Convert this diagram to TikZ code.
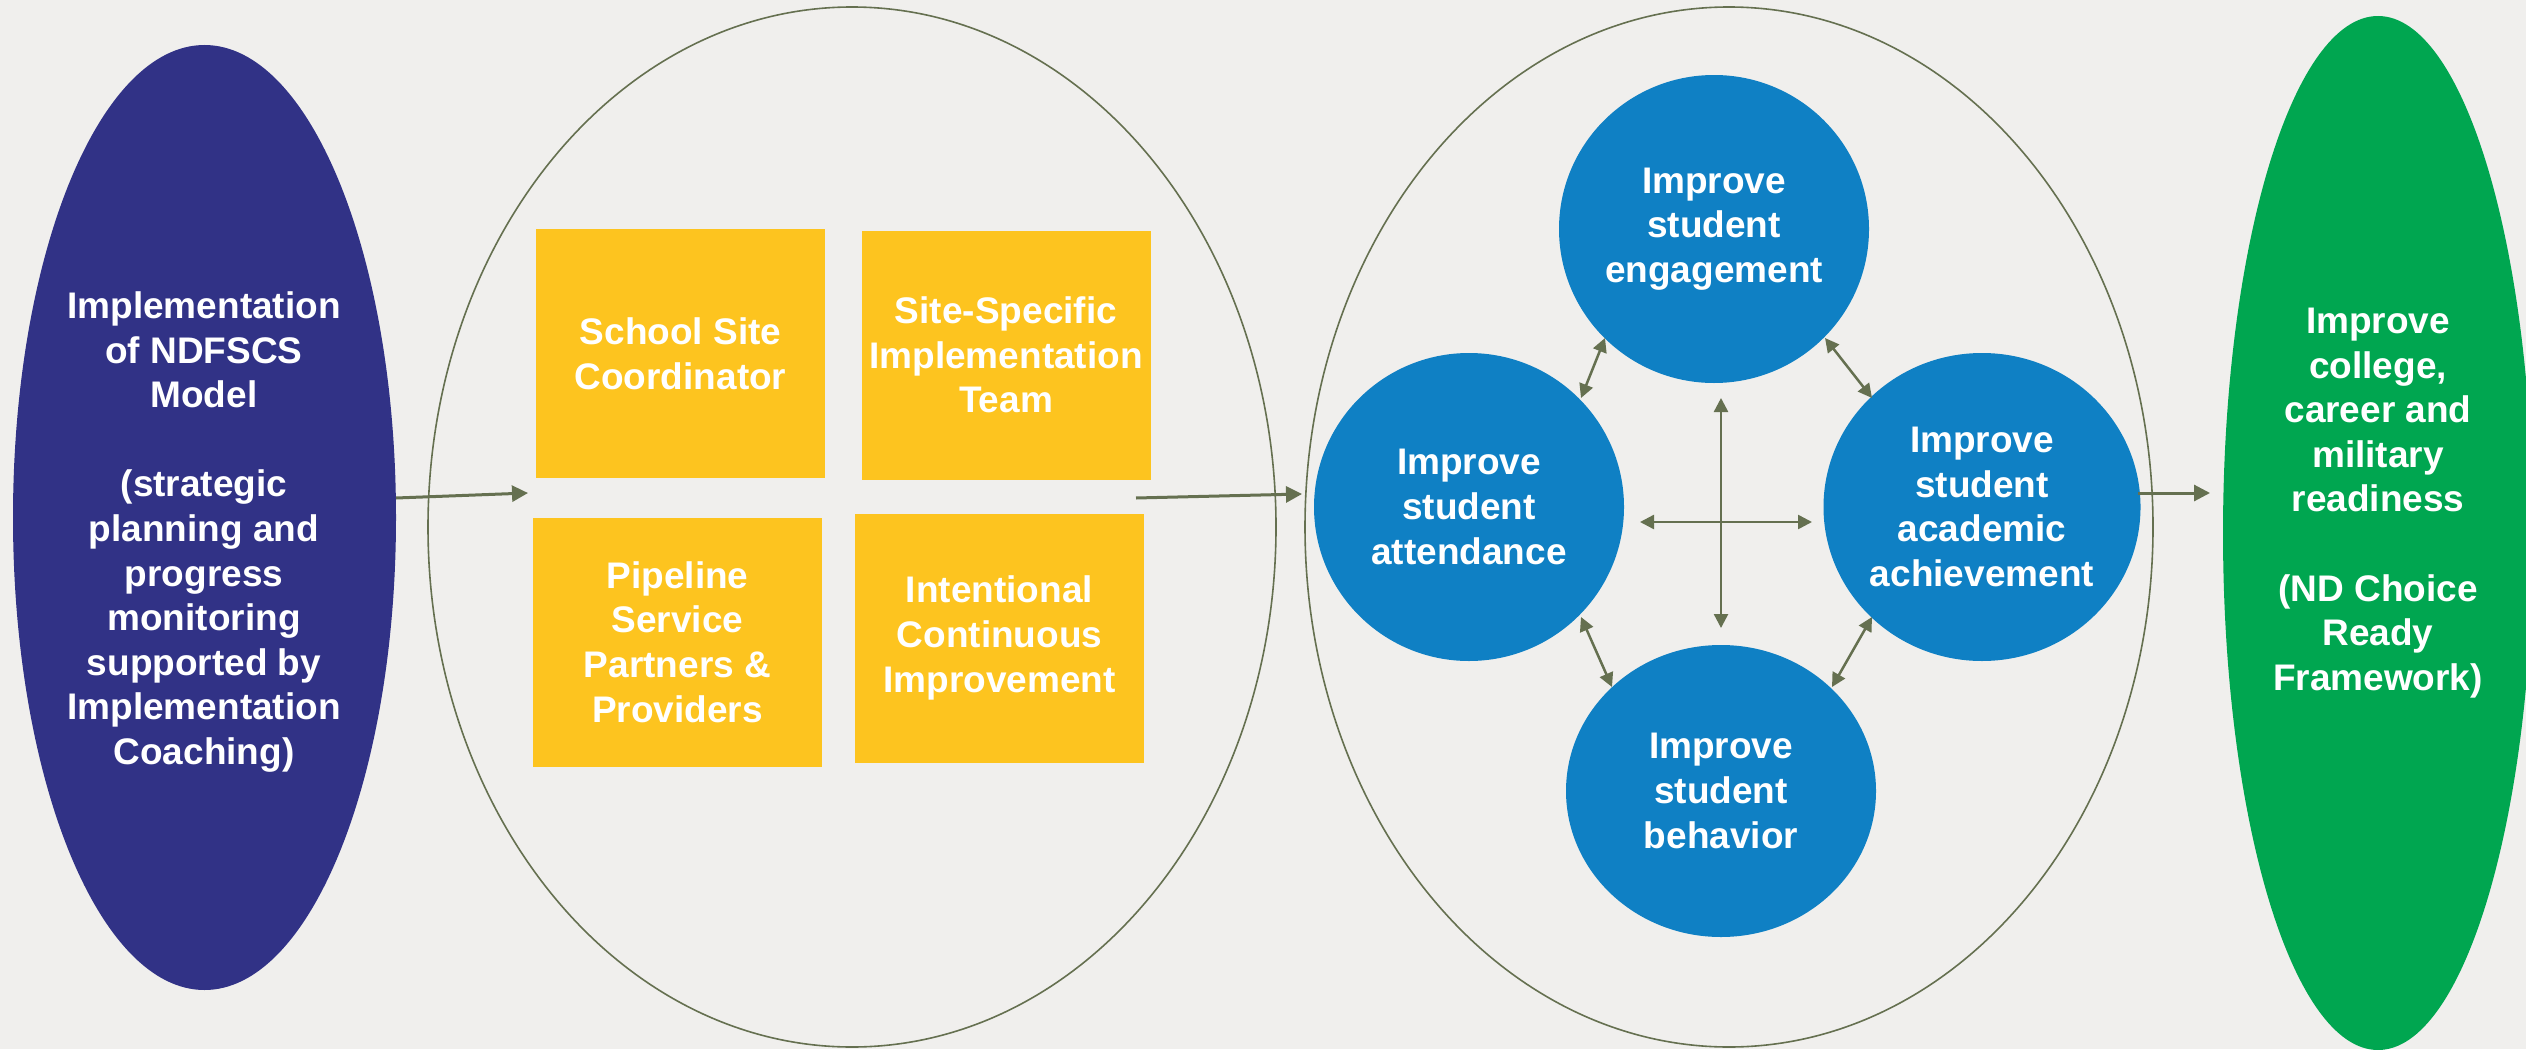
\documentclass[tikz,border=0pt]{standalone}
\usepackage{fontspec}
\setmainfont{Liberation Sans}
\usetikzlibrary{shapes.geometric,arrows.meta}
\definecolor{bg}{HTML}{F0EFED}
\definecolor{navy}{HTML}{313286}
\definecolor{gold}{HTML}{FDC41F}
\definecolor{sky}{HTML}{0F80C4}
\definecolor{grn}{HTML}{00A650}
\definecolor{olive}{HTML}{657050}
\begin{document}
\begin{tikzpicture}[x=1pt,y=-1pt,
 txt/.style={text=white,font=\fontsize{37}{44.6}\selectfont\bfseries,align=center},
 box/.style={rectangle,fill=gold,minimum width=289pt,minimum height=249pt,inner sep=0pt,txt},
 circ/.style={ellipse,fill=sky,minimum width=310pt,minimum height=308pt,inner sep=0pt,txt},
 ring/.style={ellipse,draw=olive,line width=1.6pt,minimum width=848pt,minimum height=1040pt,inner sep=0pt},
 arr/.style={draw=olive,line width=3pt,-{Triangle[length=16pt,width=16pt]}},
 darr/.style={draw=olive,line width=2.5pt,{Triangle[length=14pt,width=14pt]}-{Triangle[length=14pt,width=14pt]}}]
\fill[bg] (0,0) rectangle (2526,1049);
\useasboundingbox (0,0) rectangle (2526,1049);

% outer shapes
\node[ellipse,fill=navy,minimum width=383pt,minimum height=945pt,inner sep=0pt] (impl) at (204.5,517.5) {};
\node[txt] (implt) at (204,532) {Implementation\\of NDFSCS\\Model\\[44.6pt](strategic\\planning and\\progress\\monitoring\\supported by\\Implementation\\Coaching)};
\node[ring] (ring1) at (852,527) {};
\node[ring] (ring2) at (1729,527) {};
\node[ellipse,fill=grn,minimum width=310pt,minimum height=1034pt,inner sep=0pt] (ready) at (2378,533) {};
\node[txt] (readyt) at (2378,503) {Improve\\college,\\career and\\military\\readiness\\[44.6pt](ND Choice\\Ready\\Framework)};

% yellow boxes
\node[box] (ssc) at (680.5,353.5) {School Site\\Coordinator};
\node[box] (ssit) at (1006,355) {Site-Specific\\Implementation\\Team};
\node[box] (psp) at (677.5,642) {Pipeline\\Service\\Partners \&\\Providers};
\node[box] (ici) at (999.5,638) {Intentional\\Continuous\\Improvement};

% blue circles
\node[circ] (eng) at (1714,229) {Improve\\student\\engagement};
\node[circ] (att) at (1469,507) {Improve\\student\\attendance};
\node[circ] (ach) at (1982,507) {Improve\\student\\academic\\achievement};
\node[circ,minimum height=292pt] (beh) at (1721,791) {Improve\\student\\behavior};

% arrow end points
\coordinate (a1s) at (396,498);
\coordinate (a1e) at (528,493);
\coordinate (a2s) at (1136,498);
\coordinate (a2e) at (1302,494);
\coordinate (a3s) at (2138,493);
\coordinate (a3e) at (2210,493);
\coordinate (vt) at (1721,398);
\coordinate (vb) at (1721,628);
\coordinate (hl) at (1640,522);
\coordinate (hr) at (1812,522);
\coordinate (d1a) at (1581,398);
\coordinate (d1b) at (1605,338);
\coordinate (d2a) at (1825,338);
\coordinate (d2b) at (1872,398);
\coordinate (d3a) at (1581,617);
\coordinate (d3b) at (1612,687);
\coordinate (d4a) at (1872,617);
\coordinate (d4b) at (1832,687);

\draw[arr] (a1s) -- (a1e);
\draw[arr] (a2s) -- (a2e);
\draw[arr] (a3s) -- (a3e);
\draw[darr] (vt) -- (vb);
\draw[darr] (hl) -- (hr);
\draw[darr] (d1a) -- (d1b);
\draw[darr] (d2a) -- (d2b);
\draw[darr] (d3a) -- (d3b);
\draw[darr] (d4a) -- (d4b);
\end{tikzpicture}
\end{document}
